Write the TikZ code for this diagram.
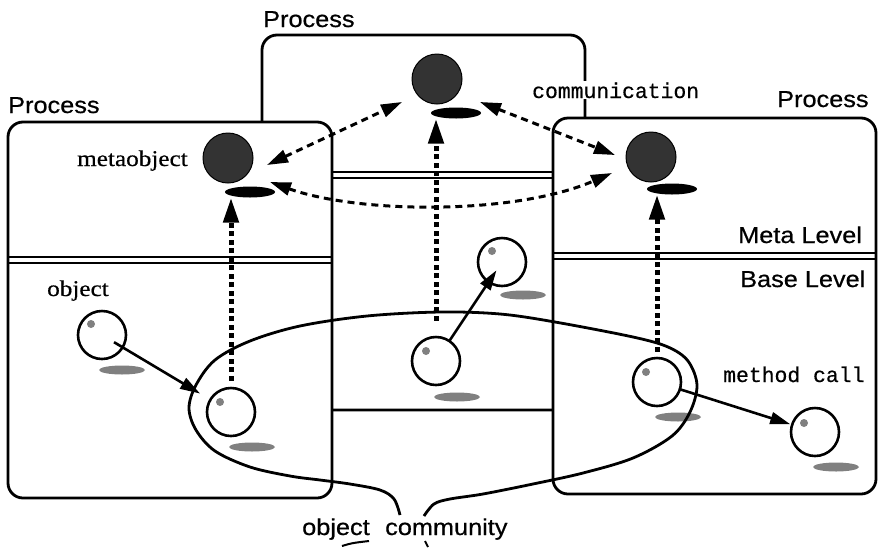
\documentclass[tikz,border=0pt]{standalone}
\usepackage{fontspec}
\setmainfont{Liberation Serif}
\newfontfamily\hvf[FakeStretch=1.1,FakeBold=0.6]{Liberation Sans}
\newfontfamily\serf[FakeStretch=1.12,FakeBold=0.5]{Liberation Serif}
\newfontfamily\monof[FakeBold=0.4]{Liberation Mono}
\usetikzlibrary{arrows.meta,shapes.geometric}
\begin{document}
\begin{tikzpicture}[x=1pt,y=-1pt,
  procbox/.style={draw=black,fill=white,line width=2.8pt,rounded corners=15pt},
  sepline/.style={draw=black,line width=1.8pt},
  obj/.style={circle,draw=black,fill=white,line width=2.6pt,minimum size=48pt,inner sep=0pt},
  meta/.style={circle,draw=black,fill=black!80,line width=1pt,minimum size=50pt,inner sep=0pt},
  metabase/.style={ellipse,fill=black,minimum width=50pt,minimum height=11pt,inner sep=0pt},
  shadow/.style={ellipse,fill=black!50,minimum width=46pt,minimum height=9pt,inner sep=0pt},
  spot/.style={circle,fill=black!50,minimum size=8pt,inner sep=0pt},
  hvtext/.style={font=\hvf\fontsize{23}{26}\selectfont,inner sep=0pt,anchor=base west},
  sertext/.style={font=\serf\fontsize{22.5}{25}\selectfont,inner sep=0pt,anchor=base west},
  monotext/.style={font=\monof\fontsize{21.4}{24}\selectfont,inner sep=1pt,anchor=base west},
  dotarrow/.style={line width=5pt,dash pattern=on 5pt off 3.5pt,-{Triangle[length=25pt,width=15pt]}},
  comarrow/.style={line width=3pt,dash pattern=on 7pt off 5pt,{Triangle[length=21pt,width=13pt]}-{Triangle[length=21pt,width=13pt]}},
  callarrow/.style={line width=2.6pt,-{Triangle[length=20pt,width=12pt]}},
  community/.style={line width=2.8pt}
]
\useasboundingbox[fill=white] (0,0) rectangle (878,547);

% middle process box
\path[procbox] (262,35) rectangle (585,410);
\draw[sepline] (262,172) -- (585,172);
\draw[sepline] (262,178) -- (585,178);
% left process box
\path[procbox] (8,122) rectangle (332,498);
\draw[sepline] (8,257) -- (332,257);
\draw[sepline] (8,263) -- (332,263);
% right process box
\path[procbox] (553,118) rectangle (876,494);
\draw[sepline] (553,253) -- (876,253);
\draw[sepline] (553,259) -- (876,259);

% labels
\node[hvtext] (p1) at (8,113) {Process};
\node[hvtext] (p2) at (263,27) {Process};
\node[hvtext] (p3) at (777,107) {Process};
\node[hvtext] (ml) at (738,243) {Meta Level};
\node[hvtext] (bl) at (740,287) {Base Level};
\node[hvtext] (oc1) at (302,535) {object};
\node[hvtext] (oc2) at (385,535) {community};
\node[sertext] (mo) at (77,166) {metaobject};
\node[sertext] (ob) at (47,296) {object};
\node[monotext,fill=white] (cm) at (531,98) {communication};
\node[monotext] (mc) at (722,382) {method call};

% shadows
\node[shadow] (s1) at (122,370) {};
\node[shadow] (s2) at (252,447) {};
\node[shadow] (s3) at (457,397) {};
\node[shadow] (s4) at (523,295) {};
\node[shadow] (s5) at (678,417) {};
\node[shadow] (s6) at (836,467) {};

% base-level objects
\node[obj] (o1) at (102,335) {};
\node[obj] (o2) at (231,412) {};
\node[obj] (o3) at (436,361) {};
\node[obj] (o4) at (502,262) {};
\node[obj] (o5) at (657,382) {};
\node[obj] (o6) at (815,432) {};
\node[spot] (t1) at (91,324) {};
\node[spot] (t2) at (220,402) {};
\node[spot] (t3) at (426,351) {};
\node[spot] (t4) at (492,251) {};
\node[spot] (t5) at (646,372) {};
\node[spot] (t6) at (804,423) {};

% metaobjects
\node[meta] (m1) at (228,158) {};
\node[meta] (m2) at (437,79) {};
\node[meta] (m3) at (651,157) {};
\node[metabase] (e1) at (250,192) {};
\node[metabase] (e2) at (456,113) {};
\node[metabase] (e3) at (672,189) {};

% object community outline
\draw[community] plot[smooth,tension=0.55] coordinates {
 (400,515) (394,499) (380,490) (350,484) (320,480) (290,476) (250,467) (215,451)
 (196,430) (189,408) (196,385) (215,360) (250,341) (300,326) (367,316) (440,312)
 (500,314) (555,322) (633,337) (668,347) (688,361) (697,385) (690,412) (672,436)
 (633,458) (583,473) (533,484) (483,494) (450,499) (434,504) (424,516)};
\draw[community,line width=2pt] (342,546) .. controls (352,543) .. (369,541);
\draw[community,line width=2pt] (425,541) -- (428,547);

% meta-level communication
\coordinate (a1) at (267,165);
\coordinate (a2) at (402,102);
\coordinate (b1) at (480,102);
\coordinate (b2) at (615,155);
\coordinate (c1) at (270,182);
\coordinate (c2) at (612,173);
\draw[comarrow] (a1) -- (a2);
\draw[comarrow] (b1) -- (b2);
\draw[comarrow] (c1) .. controls (360,214) and (515,215) .. (c2);

% reflection (base to meta)
\draw[dotarrow,shorten <=6pt] (o2.north) -- (o2.north |- e1.south);
\draw[dotarrow,shorten <=15pt] (o3.north) -- (o3.north |- e2.south);
\draw[dotarrow,shorten <=5pt] (o5.north) -- (o5.north |- e3.south);

% method calls
\draw[callarrow,shorten <=14pt,shorten >=36pt] (o1.center) -- (o2.center);
\draw[callarrow,shorten <=24pt,shorten >=10pt] (o3.center) -- (o4.center);
\draw[callarrow,shorten <=24pt,shorten >=26pt] (o5.center) -- (o6.center);
\end{tikzpicture}
\end{document}
